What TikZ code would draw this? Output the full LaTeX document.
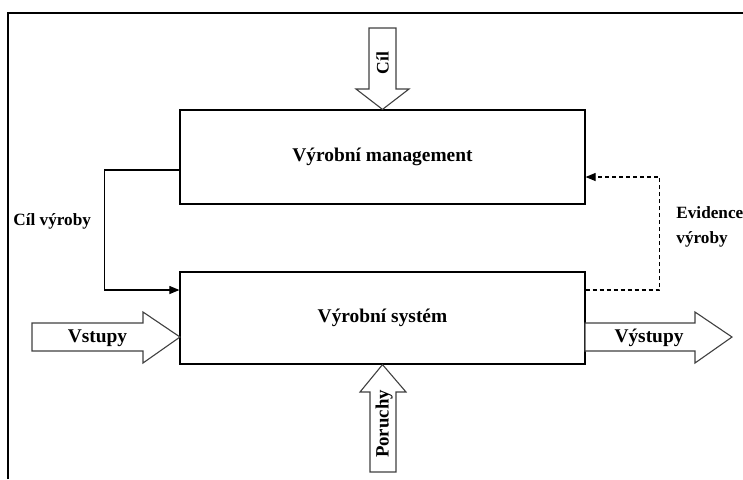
\documentclass[tikz,border=0pt]{standalone}
\usepackage{fontspec}
\setmainfont{Liberation Serif}
\usetikzlibrary{arrows.meta,positioning}

\begin{document}
\begin{tikzpicture}[x=0.5pt,y=-0.5pt,
    box/.style={draw, line width=0.6pt, minimum width=202.5pt, inner sep=0pt,
      font=\bfseries\fontsize{9.7}{12}\selectfont},
    fat/.style={draw=black!75, line width=0.55pt, fill=white},
    conn/.style={line width=0.55pt, -{Triangle[length=5pt,width=4pt]}},
    lbl/.style={inner sep=0pt, font=\bfseries\fontsize{8.6}{12.5}\selectfont}]
    \useasboundingbox (0,0) rectangle (743,479);
    % Frame
    \draw[line width=1.2pt] (8,479) -- (8,13) -- (743,13);
    % Blocks
    \node[box, minimum height=47pt] (mgmt) at (382.5,157) {Výrobní management};
    \node[box, minimum height=46pt] (sys) at (382.5,318) {Výrobní systém};
    % Cil from above
    \draw[fat] (369,28) -- (396,28) -- (396,89) -- (409,89) -- (mgmt.north)
        -- (356,89) -- (369,89) -- cycle;
    \node[lbl, rotate=90, font=\bfseries\fontsize{8.8}{10}\selectfont] (cil) at (382.5,63) {Cíl};
    % Poruchy from below
    \draw[fat] (370,472) -- (396,472) -- (396,392) -- (406,392) -- (sys.south)
        -- (360,392) -- (370,392) -- cycle;
    \node[lbl, rotate=90, font=\bfseries\fontsize{9.4}{10}\selectfont] (poruchy) at (384,424) {Poruchy};
    % Inputs and outputs
    \draw[fat] (32,323) -- (143,323) -- (143,312) -- (180,337) -- (143,363)
        -- (143,351) -- (32,351) -- cycle;
    \node[box, draw=none, minimum width=0pt] (vstupy) at (97.5,338) {Vstupy};
    \draw[fat] (585,323) -- (695,323) -- (695,312) -- (732,337) -- (695,363)
        -- (695,351) -- (585,351) -- cycle;
    \node[box, draw=none, minimum width=0pt] (vystupy) at (649,338) {Výstupy};
    % Feedback loops
    \draw[conn] ([yshift=-6.5pt]mgmt.west) -- ++(-75,0) |- ([yshift=14pt]sys.west);
    \node[lbl, anchor=west] (cilv) at (13,221) {Cíl výroby};
    \draw[conn, dash pattern=on 2pt off 1.5pt] ([yshift=14pt]sys.east) -- ++(74,0)
        |- ([yshift=-10pt]mgmt.east);
    \node[lbl, anchor=west, align=left] (evid) at (676,226.5) {Evidence\\výroby};
\end{tikzpicture}
\end{document}
